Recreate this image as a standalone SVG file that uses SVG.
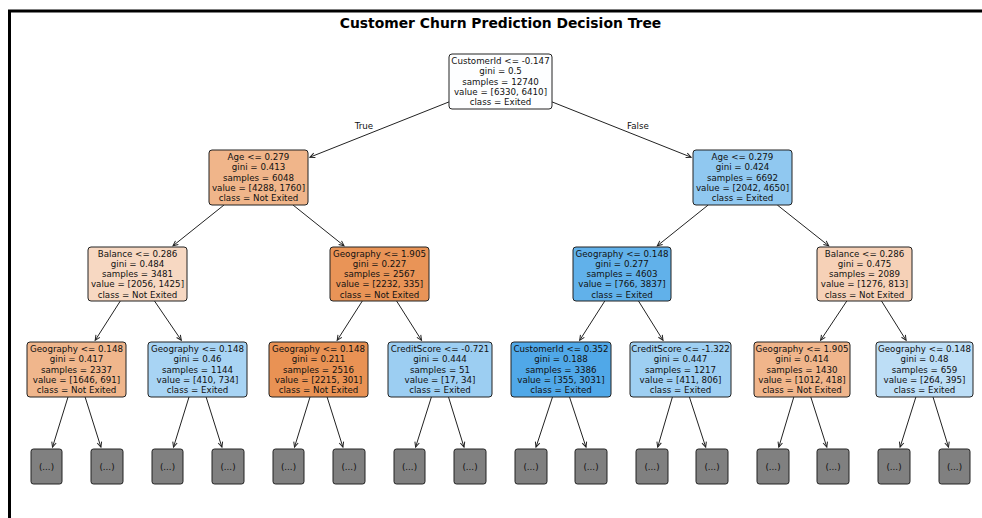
<svg xmlns="http://www.w3.org/2000/svg" width="982" height="518" viewBox="0 0 982 518">
<defs>
<marker id="ah" markerUnits="userSpaceOnUse" markerWidth="12" markerHeight="12" viewBox="-7 -6 12 12" refX="0" refY="0" orient="auto" overflow="visible">
<path d="M-5,-2.3 L0,0 L-5,2.3" fill="none" stroke="#222" stroke-width="1"/>
</marker>
<style>
text{font-family:"DejaVu Sans","Liberation Sans",sans-serif;font-size:8.7px;fill:#111;text-anchor:middle}
.title{font-size:13.9px;font-weight:bold;fill:#000}
.box{stroke:#222;stroke-width:1}
.leaf{fill:#808080;stroke:#222;stroke-width:1}
#edges line{stroke:#222;stroke-width:1;marker-end:url(#ah)}
</style>
</defs>
<rect x="0" y="0" width="982" height="518" fill="#fff"/>
<rect x="9.5" y="11" width="990" height="520" fill="none" stroke="#000" stroke-width="3"/>
<text class="title" x="500.5" y="28">Customer Churn Prediction Decision Tree</text>
<g id="edges">
<line x1="449" y1="101.9" x2="309.9" y2="157.2"/>
<line x1="552" y1="101.9" x2="691.1" y2="157.2"/>
<line x1="224" y1="205" x2="173" y2="245.8"/>
<line x1="293" y1="205" x2="344" y2="245.8"/>
<line x1="708.2" y1="205" x2="657.3" y2="245.8"/>
<line x1="777.3" y1="205" x2="828.7" y2="245.8"/>
<line x1="120.3" y1="301" x2="95.2" y2="340.3"/>
<line x1="154.5" y1="301" x2="181.3" y2="340.3"/>
<line x1="362.3" y1="301" x2="337.2" y2="340.3"/>
<line x1="396.6" y1="301" x2="421.5" y2="340.3"/>
<line x1="604.8" y1="301" x2="579.7" y2="340.3"/>
<line x1="638.5" y1="301" x2="663" y2="340.3"/>
<line x1="846.8" y1="301" x2="820.6" y2="340.3"/>
<line x1="881.5" y1="301" x2="906.1" y2="340.3"/>
<line x1="68" y1="397" x2="52.5" y2="447.1"/>
<line x1="85.1" y1="397" x2="100.9" y2="447.1"/>
<line x1="189" y1="397" x2="173.5" y2="447.1"/>
<line x1="206.1" y1="397" x2="221.9" y2="447.1"/>
<line x1="310" y1="397" x2="294.5" y2="447.1"/>
<line x1="327.1" y1="397" x2="342.9" y2="447.1"/>
<line x1="431.4" y1="397" x2="415.6" y2="447.1"/>
<line x1="448.5" y1="397" x2="464" y2="447.1"/>
<line x1="552.5" y1="397" x2="536" y2="447.1"/>
<line x1="569.5" y1="397" x2="586" y2="447.1"/>
<line x1="672.4" y1="397" x2="657.7" y2="447.1"/>
<line x1="689.4" y1="397" x2="705.7" y2="447.1"/>
<line x1="793.8" y1="397" x2="778.8" y2="447.1"/>
<line x1="810.8" y1="397" x2="826.8" y2="447.1"/>
<line x1="915.9" y1="397" x2="900.1" y2="447.1"/>
<line x1="933" y1="397" x2="948.5" y2="447.1"/>
<text x="364" y="129">True</text>
<text x="638" y="129">False</text>
</g>
<g id="root">
<rect class="box" x="449" y="54" width="103" height="55" rx="3" fill="#fdfeff"/>
<text x="500.5" y="64.1">CustomerId &lt;= -0.147<tspan x="500.5" dy="10.25">gini = 0.5</tspan><tspan x="500.5" dy="10.25">samples = 12740</tspan><tspan x="500.5" dy="10.25">value = [6330, 6410]</tspan><tspan x="500.5" dy="10.25">class = Exited</tspan></text>
</g>
<g id="n1">
<rect class="box" x="209" y="150" width="99" height="55" rx="3" fill="#f0b58a"/>
<text x="258.5" y="160.1">Age &lt;= 0.279<tspan x="258.5" dy="10.25">gini = 0.413</tspan><tspan x="258.5" dy="10.25">samples = 6048</tspan><tspan x="258.5" dy="10.25">value = [4288, 1760]</tspan><tspan x="258.5" dy="10.25">class = Not Exited</tspan></text>
</g>
<g id="n2">
<rect class="box" x="693" y="150" width="99" height="55" rx="3" fill="#90c8f0"/>
<text x="742.5" y="160.1">Age &lt;= 0.279<tspan x="742.5" dy="10.25">gini = 0.424</tspan><tspan x="742.5" dy="10.25">samples = 6692</tspan><tspan x="742.5" dy="10.25">value = [2042, 4650]</tspan><tspan x="742.5" dy="10.25">class = Exited</tspan></text>
</g>
<g id="n3">
<rect class="box" x="88" y="247" width="99" height="54" rx="3" fill="#f7d8c2"/>
<text x="137.5" y="256.6">Balance &lt;= 0.286<tspan x="137.5" dy="10.25">gini = 0.484</tspan><tspan x="137.5" dy="10.25">samples = 3481</tspan><tspan x="137.5" dy="10.25">value = [2056, 1425]</tspan><tspan x="137.5" dy="10.25">class = Not Exited</tspan></text>
</g>
<g id="n4">
<rect class="box" x="330" y="247" width="99" height="54" rx="3" fill="#e99457"/>
<text x="379.5" y="256.6">Geography &lt;= 1.905<tspan x="379.5" dy="10.25">gini = 0.227</tspan><tspan x="379.5" dy="10.25">samples = 2567</tspan><tspan x="379.5" dy="10.25">value = [2232, 335]</tspan><tspan x="379.5" dy="10.25">class = Not Exited</tspan></text>
</g>
<g id="n5">
<rect class="box" x="573" y="247" width="98" height="54" rx="3" fill="#61b1ea"/>
<text x="622" y="256.6">Geography &lt;= 0.148<tspan x="622" dy="10.25">gini = 0.277</tspan><tspan x="622" dy="10.25">samples = 4603</tspan><tspan x="622" dy="10.25">value = [766, 3837]</tspan><tspan x="622" dy="10.25">class = Exited</tspan></text>
</g>
<g id="n6">
<rect class="box" x="817" y="247" width="95" height="54" rx="3" fill="#f6d1b7"/>
<text x="864.5" y="256.6">Balance &lt;= 0.286<tspan x="864.5" dy="10.25">gini = 0.475</tspan><tspan x="864.5" dy="10.25">samples = 2089</tspan><tspan x="864.5" dy="10.25">value = [1276, 813]</tspan><tspan x="864.5" dy="10.25">class = Not Exited</tspan></text>
</g>
<g id="n7">
<rect class="box" x="27" y="342" width="99" height="55" rx="3" fill="#f0b68c"/>
<text x="76.5" y="352.1">Geography &lt;= 0.148<tspan x="76.5" dy="10.25">gini = 0.417</tspan><tspan x="76.5" dy="10.25">samples = 2337</tspan><tspan x="76.5" dy="10.25">value = [1646, 691]</tspan><tspan x="76.5" dy="10.25">class = Not Exited</tspan></text>
</g>
<g id="n8">
<rect class="box" x="148" y="342" width="99" height="55" rx="3" fill="#a8d4f4"/>
<text x="197.5" y="352.1">Geography &lt;= 0.148<tspan x="197.5" dy="10.25">gini = 0.46</tspan><tspan x="197.5" dy="10.25">samples = 1144</tspan><tspan x="197.5" dy="10.25">value = [410, 734]</tspan><tspan x="197.5" dy="10.25">class = Exited</tspan></text>
</g>
<g id="n9">
<rect class="box" x="269" y="342" width="99" height="55" rx="3" fill="#e99254"/>
<text x="318.5" y="352.1">Geography &lt;= 0.148<tspan x="318.5" dy="10.25">gini = 0.211</tspan><tspan x="318.5" dy="10.25">samples = 2516</tspan><tspan x="318.5" dy="10.25">value = [2215, 301]</tspan><tspan x="318.5" dy="10.25">class = Not Exited</tspan></text>
</g>
<g id="n10">
<rect class="box" x="388" y="342" width="104" height="55" rx="3" fill="#9ccef2"/>
<text x="440" y="352.1">CreditScore &lt;= -0.721<tspan x="440" dy="10.25">gini = 0.444</tspan><tspan x="440" dy="10.25">samples = 51</tspan><tspan x="440" dy="10.25">value = [17, 34]</tspan><tspan x="440" dy="10.25">class = Exited</tspan></text>
</g>
<g id="n11">
<rect class="box" x="511" y="342" width="100" height="55" rx="3" fill="#50a8e8"/>
<text x="561" y="352.1">CustomerId &lt;= 0.352<tspan x="561" dy="10.25">gini = 0.188</tspan><tspan x="561" dy="10.25">samples = 3386</tspan><tspan x="561" dy="10.25">value = [355, 3031]</tspan><tspan x="561" dy="10.25">class = Exited</tspan></text>
</g>
<g id="n12">
<rect class="box" x="630" y="342" width="101" height="55" rx="3" fill="#9ecff2"/>
<text x="680.5" y="352.1">CreditScore &lt;= -1.322<tspan x="680.5" dy="10.25">gini = 0.447</tspan><tspan x="680.5" dy="10.25">samples = 1217</tspan><tspan x="680.5" dy="10.25">value = [411, 806]</tspan><tspan x="680.5" dy="10.25">class = Exited</tspan></text>
</g>
<g id="n13">
<rect class="box" x="754" y="342" width="96" height="55" rx="3" fill="#f0b58b"/>
<text x="802" y="352.1">Geography &lt;= 1.905<tspan x="802" dy="10.25">gini = 0.414</tspan><tspan x="802" dy="10.25">samples = 1430</tspan><tspan x="802" dy="10.25">value = [1012, 418]</tspan><tspan x="802" dy="10.25">class = Not Exited</tspan></text>
</g>
<g id="n14">
<rect class="box" x="876" y="342" width="97" height="55" rx="3" fill="#bddef6"/>
<text x="924.5" y="352.1">Geography &lt;= 0.148<tspan x="924.5" dy="10.25">gini = 0.48</tspan><tspan x="924.5" dy="10.25">samples = 659</tspan><tspan x="924.5" dy="10.25">value = [264, 395]</tspan><tspan x="924.5" dy="10.25">class = Exited</tspan></text>
</g>
<g id="leaf1"><rect class="leaf" x="31" y="449" width="31" height="35" rx="2.5"/><text x="46.5" y="469.6">(...)</text></g>
<g id="leaf2"><rect class="leaf" x="91" y="449" width="32" height="35" rx="2.5"/><text x="107" y="469.6">(...)</text></g>
<g id="leaf3"><rect class="leaf" x="152" y="449" width="31" height="35" rx="2.5"/><text x="167.5" y="469.6">(...)</text></g>
<g id="leaf4"><rect class="leaf" x="212" y="449" width="32" height="35" rx="2.5"/><text x="228" y="469.6">(...)</text></g>
<g id="leaf5"><rect class="leaf" x="273" y="449" width="31" height="35" rx="2.5"/><text x="288.5" y="469.6">(...)</text></g>
<g id="leaf6"><rect class="leaf" x="333" y="449" width="32" height="35" rx="2.5"/><text x="349" y="469.6">(...)</text></g>
<g id="leaf7"><rect class="leaf" x="394" y="449" width="31" height="35" rx="2.5"/><text x="409.5" y="469.6">(...)</text></g>
<g id="leaf8"><rect class="leaf" x="454" y="449" width="32" height="35" rx="2.5"/><text x="470" y="469.6">(...)</text></g>
<g id="leaf9"><rect class="leaf" x="515" y="449" width="32" height="35" rx="2.5"/><text x="531" y="469.6">(...)</text></g>
<g id="leaf10"><rect class="leaf" x="575" y="449" width="32" height="35" rx="2.5"/><text x="591" y="469.6">(...)</text></g>
<g id="leaf11"><rect class="leaf" x="636" y="449" width="32" height="35" rx="2.5"/><text x="652" y="469.6">(...)</text></g>
<g id="leaf12"><rect class="leaf" x="696" y="449" width="32" height="35" rx="2.5"/><text x="712" y="469.6">(...)</text></g>
<g id="leaf13"><rect class="leaf" x="757" y="449" width="32" height="35" rx="2.5"/><text x="773" y="469.6">(...)</text></g>
<g id="leaf14"><rect class="leaf" x="817" y="449" width="32" height="35" rx="2.5"/><text x="833" y="469.6">(...)</text></g>
<g id="leaf15"><rect class="leaf" x="878" y="449" width="32" height="35" rx="2.5"/><text x="894" y="469.6">(...)</text></g>
<g id="leaf16"><rect class="leaf" x="939" y="449" width="31" height="35" rx="2.5"/><text x="954.5" y="469.6">(...)</text></g>
</svg>
